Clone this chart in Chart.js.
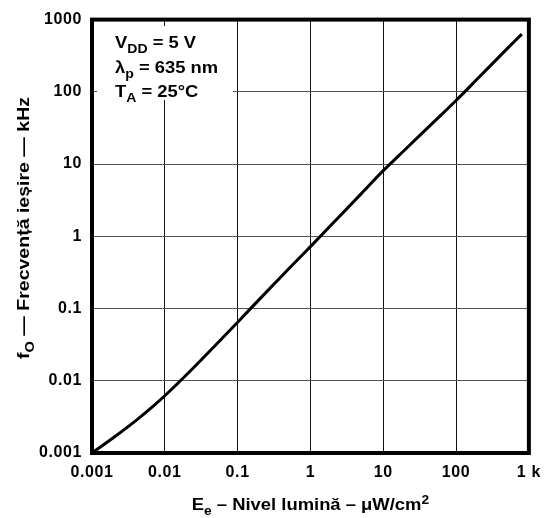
<!DOCTYPE html>
<html>
<head>
<meta charset="utf-8">
<script src="https://cdn.jsdelivr.net/npm/chart.js@4.4.1/dist/chart.umd.min.js"></script>
<style>
  html, body { margin: 0; padding: 0; background: #fff; }
</style>
</head>
<body>
<canvas id="freqChart" width="550" height="518"></canvas>
<script>
// Output frequency vs. irradiance (log-log)
const irradiance = [0.001, 0.002, 0.004, 0.007, 0.01, 0.02, 0.05, 0.1, 0.2, 0.5, 1, 2, 5, 10, 20, 50, 100, 200, 500, 800];
const outputFreq = [0.001, 0.00165, 0.00281, 0.0045, 0.0062, 0.0122, 0.0313, 0.0647, 0.135, 0.352, 0.72, 1.49, 3.9, 8.1, 15.9, 38.7, 76, 154, 393, 630];

const decades = [0.001, 0.01, 0.1, 1, 10, 100, 1000];
const xTickLabels = ["0.001", "0.01", "0.1", "1", "10", "100", "1 k"];
const yTickLabels = ["0.001", "0.01", "0.1", "1", "10", "100", "1000"];

const FONT = "'Liberation Sans', Arial, sans-serif";

// text runs with subscripts / superscripts
const yTitle = [{ t: "f" }, { t: "O", sub: true }, { t: " \u2014 Frecven\u021b\u0103 ie\u0219ire \u2014 kHz" }];
const xTitle = [{ t: "E" }, { t: "e", sub: true }, { t: " \u2013 Nivel lumin\u0103 \u2013 \u03bcW/cm" }, { t: "2", sup: true }];
const conditions = [
    [{ t: "V" }, { t: "DD", sub: true }, { t: " = 5 V" }],
    [{ t: "\u03bb" }, { t: "p", sub: true }, { t: " = 635 nm" }],
    [{ t: "T" }, { t: "A", sub: true }, { t: " = 25\u00b0C" }]
];

function partFont(p, size) {
    const s = (p.sub || p.sup) ? Math.round(size * 0.75) : size;
    return "bold " + s + "px " + FONT;
}

function runWidth(ctx, parts, size) {
    let w = 0;
    parts.forEach(p => { ctx.font = partFont(p, size); w += ctx.measureText(p.t).width; });
    return w;
}

// draws a run starting at (x, y), stretched horizontally by sx
function drawRun(ctx, parts, x, y, size, sx) {
    ctx.save();
    ctx.translate(x, y);
    ctx.scale(sx, 1);
    let cx = 0;
    parts.forEach(p => {
        ctx.font = partFont(p, size);
        let dy = 0;
        if (p.sub) dy = size * 0.3;
        if (p.sup) dy = -size * 0.4;
        ctx.fillText(p.t, cx, dy);
        cx += ctx.measureText(p.t).width;
    });
    ctx.restore();
}

const decorations = {
    id: "decorations",
    beforeDraw(chart) {
        // slightly wider tick lettering
        chart.ctx.letterSpacing = "0.6px";
    },
    afterDraw(chart) {
        const ctx = chart.ctx;
        const a = chart.chartArea;
        ctx.save();
        ctx.letterSpacing = "0px";

        // conditions box
        ctx.fillStyle = "#fff";
        ctx.fillRect(97, 26, 136, 74);
        ctx.fillStyle = "#000";
        ctx.textBaseline = "alphabetic";
        ctx.textAlign = "left";
        [48, 72.5, 97].forEach((by, i) => drawRun(ctx, conditions[i], 115, by, 17, 1.08));

        // plot frame
        ctx.strokeStyle = "#000";
        ctx.lineWidth = 4;
        ctx.strokeRect(a.left, a.top, a.right - a.left, a.bottom - a.top);

        // x axis title
        const cx = (a.left + a.right) / 2;
        const sxX = 1.15;
        const wx = runWidth(ctx, xTitle, 16) * sxX;
        drawRun(ctx, xTitle, cx - wx / 2, 510, 16, sxX);

        // y axis title
        ctx.translate(29, 228);
        ctx.rotate(-Math.PI / 2);
        const sxY = 1.22;
        const wy = runWidth(ctx, yTitle, 16) * sxY;
        drawRun(ctx, yTitle, -wy / 2, 0, 16, sxY);

        ctx.restore();
    }
};

const points = irradiance.map((x, i) => ({ x: x, y: outputFreq[i] }));

new Chart(document.getElementById("freqChart").getContext("2d"), {
    type: "scatter",
    data: {
        datasets: [{
            data: points,
            showLine: true,
            borderColor: "#000",
            borderWidth: 3,
            pointRadius: 0,
            cubicInterpolationMode: "monotone"
        }]
    },
    options: {
        responsive: false,
        animation: false,
        layout: { padding: { top: 14, right: 17, left: 0, bottom: 0 } },
        plugins: { legend: { display: false }, tooltip: { enabled: false } },
        scales: {
            x: {
                type: "logarithmic",
                min: 0.001,
                max: 1000,
                afterBuildTicks: scale => { scale.ticks = decades.map(v => ({ value: v })); },
                afterFit: scale => { scale.height = 65; },
                grid: { color: "#111", lineWidth: 1, drawTicks: false },
                border: { display: false },
                ticks: {
                    padding: 10,
                    color: "#000",
                    maxRotation: 0,
                    autoSkip: false,
                    font: { family: FONT, size: 16, weight: "bold" },
                    callback: (v, i) => xTickLabels[i]
                }
            },
            y: {
                type: "logarithmic",
                min: 0.001,
                max: 1000,
                afterBuildTicks: scale => { scale.ticks = decades.map(v => ({ value: v })); },
                afterFit: scale => { scale.width = 92; },
                grid: { color: "#555", lineWidth: 1, drawTicks: false },
                border: { display: false },
                ticks: {
                    padding: 10,
                    color: "#000",
                    autoSkip: false,
                    font: { family: FONT, size: 16, weight: "bold" },
                    callback: (v, i) => yTickLabels[i]
                }
            }
        }
    },
    plugins: [decorations]
});
</script>
</body>
</html>
